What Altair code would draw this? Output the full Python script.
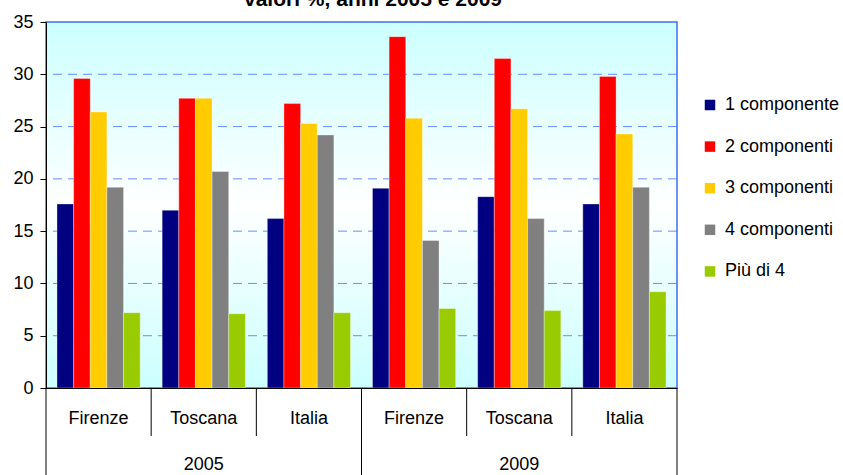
import altair as alt
import pandas as pd

title_text = "valori %, anni 2005 e 2009"
cities = ["Firenze", "Toscana", "Italia"]
years = ["2005", "2009"]
series = ["1 componente", "2 componenti", "3 componenti", "4 componenti", "Più di 4"]
colors = ["#000080", "#ff0000", "#ffcc00", "#808080", "#99cc00"]

# values per group: Firenze 2005, Toscana 2005, Italia 2005, Firenze 2009, Toscana 2009, Italia 2009
v1 = [17.6, 17.0, 16.2, 19.1, 18.3, 17.6]
v2 = [29.6, 27.7, 27.2, 33.6, 31.5, 29.8]
v3 = [26.4, 27.7, 25.3, 25.8, 26.7, 24.3]
v4 = [19.2, 20.7, 24.2, 14.1, 16.2, 19.2]
v5 = [7.2, 7.1, 7.2, 7.6, 7.4, 9.2]
grid_values = [5, 10, 15, 20, 25, 30]

groups = [f"{y} {c}" for y in years for c in cities]
group_city = [c for y in years for c in cities]
group_year = [y for y in years for c in cities]

rows = []
for si, vals in enumerate([v1, v2, v3, v4, v5]):
    for gi, g in enumerate(groups):
        rows.append({"grp": g, "serie": series[si], "val": vals[gi]})
df = pd.DataFrame(rows)

groups_df = pd.DataFrame({"grp": groups, "city": group_city, "year": group_year})
groups_df["first"] = [i % 3 == 0 for i in range(len(groups))]
year_df = pd.DataFrame({"grp": [f"{y} {cities[1]}" for y in years], "year": years})
last_df = pd.DataFrame({"grp": [groups[-1]]})
grid_df = pd.DataFrame({"v": grid_values})
bg_df = pd.DataFrame({"a": [0]})
title_df = pd.DataFrame({"t": [title_text]})

W, H = 631, 366
xscale = alt.Scale(domain=groups, paddingInner=0, paddingOuter=0)
yscale = alt.Scale(domain=[0, 35])

bg = alt.Chart(bg_df).mark_rect(
    color=alt.Gradient(
        gradient="linear",
        stops=[alt.GradientStop(color="#ccffff", offset=0),
               alt.GradientStop(color="#ffffff", offset=0.5),
               alt.GradientStop(color="#ccffff", offset=1)],
        x1=0, x2=0, y1=0, y2=1),
    stroke="#3f6ff0", strokeWidth=1.5,
).encode(x=alt.value(0), x2=alt.value("width"), y=alt.value(0), y2=alt.value("height"))

grid = alt.Chart(grid_df).mark_rule(color="#4d79ff", strokeDash=[9, 6], strokeWidth=1, opacity=0.85).encode(
    y=alt.Y("v:Q", scale=yscale)
)

bars = alt.Chart(df).mark_bar(stroke="white", strokeOpacity=0.35, strokeWidth=1).encode(
    x=alt.X("grp:N", scale=xscale, sort=groups,
            axis=alt.Axis(labels=False, ticks=False, title=None, domainColor="black", domainWidth=1, zindex=1)),
    xOffset=alt.XOffset("serie:N", sort=series, scale=alt.Scale(paddingOuter=0.66, paddingInner=0)),
    y=alt.Y("val:Q", scale=yscale,
            axis=alt.Axis(values=[0, 5, 10, 15, 20, 25, 30, 35], grid=False, title=None,
                          domainColor="black", tickColor="black", tickSize=6, labelPadding=7,
                          labelFontSize=18, labelColor="black", zindex=1)),
    color=alt.Color("serie:N", sort=series, scale=alt.Scale(domain=series, range=colors),
                    legend=alt.Legend(title=None, orient="none", legendX=655, legendY=74,
                                      symbolType="square", symbolSize=110, symbolStrokeWidth=0,
                                      labelFontSize=18, labelColor="black", labelOffset=6,
                                      rowPadding=23.6, labelLimit=200)),
)

sep_city = alt.Chart(groups_df).transform_filter("!datum.first").mark_rule(color="black", strokeWidth=1).encode(
    x=alt.X("grp:N", scale=xscale, sort=groups, bandPosition=0),
    y=alt.value(H), y2=alt.value(H + 48),
)
sep_year = alt.Chart(groups_df).transform_filter("datum.first").mark_rule(color="black", strokeWidth=1).encode(
    x=alt.X("grp:N", scale=xscale, sort=groups, bandPosition=0),
    y=alt.value(H), y2=alt.value(H + 90),
)
sep_last = alt.Chart(last_df).mark_rule(color="black", strokeWidth=1).encode(
    x=alt.X("grp:N", scale=xscale, sort=groups, bandPosition=1),
    y=alt.value(H), y2=alt.value(H + 90),
)

city_text = alt.Chart(groups_df).mark_text(fontSize=18, color="black", baseline="middle").encode(
    x=alt.X("grp:N", scale=xscale, sort=groups, bandPosition=0.5),
    y=alt.value(H + 31),
    text="city:N",
)
year_text = alt.Chart(year_df).mark_text(fontSize=18, color="black", baseline="middle").encode(
    x=alt.X("grp:N", scale=xscale, sort=groups, bandPosition=0.5),
    y=alt.value(H + 77),
    text="year:N",
)
title_mark = alt.Chart(title_df).mark_text(fontSize=21, fontWeight="bold", color="black",
                                           baseline="alphabetic", align="center").encode(
    x=alt.value(327), y=alt.value(-16), text="t:N",
)

chart = alt.layer(bg, grid, bars, sep_city, sep_year, sep_last, city_text, year_text, title_mark).properties(
    width=W, height=H,
    autosize=alt.AutoSizeParams(type="none"),
    padding={"left": 46, "top": 22, "right": 166, "bottom": 87},
).configure(font="Liberation Sans").configure_view(strokeWidth=0)

chart.save("out.html", embed_options={"renderer": "svg", "actions": False})
